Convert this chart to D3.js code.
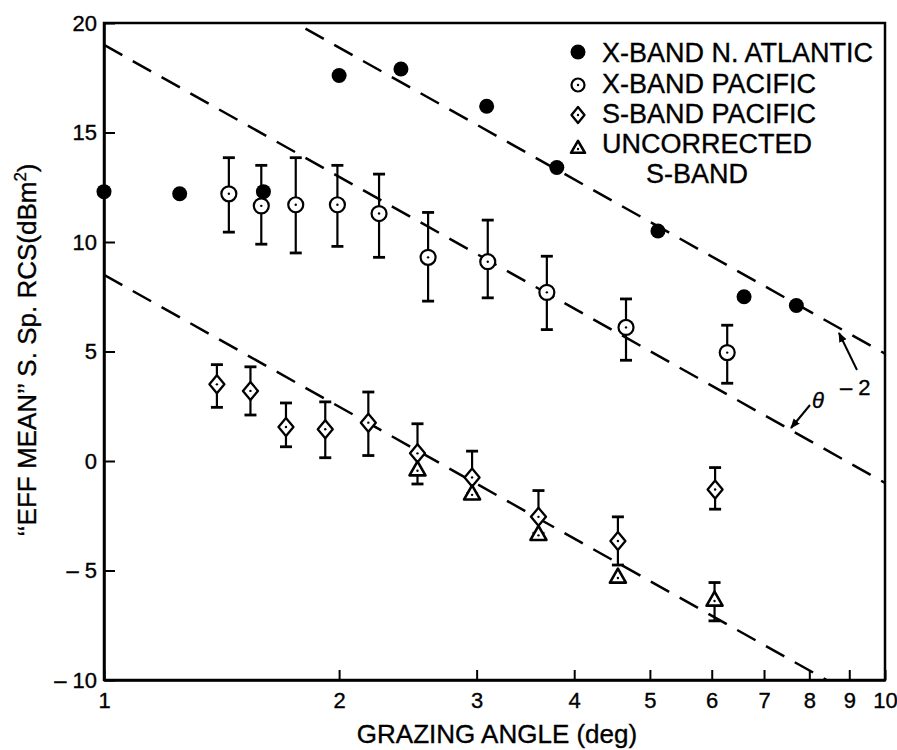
<!DOCTYPE html>
<html>
<head>
<meta charset="utf-8">
<script src="https://cdn.jsdelivr.net/npm/d3@7"></script>
<style>
  body { margin: 0; background: #fff; }
  text { font-family: "Liberation Sans", Arial, Helvetica, sans-serif; fill: #000; stroke: #000; stroke-width: 0.35px; }
</style>
</head>
<body>
<svg id="chart" width="897" height="750"></svg>
<script>
// axis ticks
var xTicks = [1, 2, 3, 4, 5, 6, 7, 8, 9, 10];
var yTicks = [-10, -5, 0, 5, 10, 15, 20];

// X-band N. Atlantic (filled circles)
var naX = [1.0, 1.25, 1.6, 2.0, 2.4, 3.09, 3.8, 5.12, 6.6, 7.7];
var naY = [12.3, 12.2, 12.3, 17.6, 17.9, 16.2, 13.4, 10.5, 7.5, 7.1];

// X-band Pacific (open circles + error bars)
var xpX  = [1.445, 1.59, 1.76, 1.99, 2.25, 2.6, 3.1, 3.69, 4.66, 6.28];
var xpY  = [12.2, 11.65, 11.7, 11.7, 11.3, 9.3, 9.1, 7.7, 6.1, 4.95];
var xpHi = [13.85, 13.5, 13.85, 13.5, 13.1, 11.35, 11.0, 9.35, 7.4, 6.2];
var xpLo = [10.45, 9.9, 9.5, 9.8, 9.3, 7.3, 7.45, 6.0, 4.6, 3.55];

// S-band Pacific (diamonds + error bars)
var sbX  = [1.395, 1.54, 1.71, 1.92, 2.18, 2.52, 2.96, 3.6, 4.55, 6.06];
var sbY  = [3.5, 3.2, 1.55, 1.45, 1.75, 0.35, -0.75, -2.55, -3.65, -1.3];
var sbHi = [4.4, 4.3, 2.65, 2.7, 3.15, 1.7, 0.45, -1.35, -2.55, -0.3];
var sbLo = [2.45, 2.1, 0.65, 0.15, 0.25, -1.05, -1.5, -3.3, -4.75, -2.2];

// uncorrected S-band (triangles)
var ucX  = [2.52, 2.96, 3.6, 4.55, 6.05];
var ucY  = [-0.4, -1.5, -3.35, -5.3, -6.35];
var ucHi = [null, null, null, null, -5.55];
var ucLo = [null, null, null, null, -7.3];

// theta^-2 reference lines (value at 1 deg)
var thetaLines = [24.9, 19.0, 8.5];

var legendLabels = ["X-BAND N. ATLANTIC", "X-BAND PACIFIC", "S-BAND PACIFIC", "UNCORRECTED"];

var svg = d3.select("#chart");
var x = d3.scaleLog().domain([1, 10]).range([104, 885]);
var y = d3.scaleLinear().domain([-10, 20]).range([680, 23]);

svg.append("defs").append("clipPath").attr("id", "clip")
  .append("rect")
  .attr("x", x(1)).attr("y", y(20))
  .attr("width", x(10) - x(1)).attr("height", y(-10) - y(20));

// axes
var xAxis = d3.axisBottom(x).tickValues(xTicks).tickFormat(d3.format("d"))
  .tickSize(-10).tickSizeOuter(0).tickPadding(12);
var yAxis = d3.axisLeft(y).tickValues(yTicks)
  .tickFormat(function(d) { return d < 0 ? "\u2013 " + (-d) : d; })
  .tickSize(-11).tickSizeOuter(0).tickPadding(7);

var gx = svg.append("g").attr("transform", "translate(0," + y(-10) + ")").call(xAxis);
var gy = svg.append("g").attr("transform", "translate(" + x(1) + ",0)").call(yAxis);
[gx, gy].forEach(function(g) {
  g.attr("font-family", null).attr("font-size", 22);
  g.selectAll("line").attr("stroke", "#000").attr("stroke-width", 2);
  g.select(".domain").attr("stroke", "#000").attr("stroke-width", 2.5);
});

// frame
svg.append("rect")
  .attr("x", x(1)).attr("y", y(20))
  .attr("width", x(10) - x(1)).attr("height", y(-10) - y(20))
  .attr("fill", "none").attr("stroke", "#000").attr("stroke-width", 2.5);

// axis titles
svg.append("text").attr("x", 497).attr("y", 743).attr("text-anchor", "middle")
  .attr("font-size", 26).text("GRAZING ANGLE (deg)");
var yt = svg.append("text").attr("transform", "translate(36,350) rotate(-90)")
  .attr("text-anchor", "middle").attr("font-size", 26);
yt.append("tspan").text("\u2018\u2018EFF MEAN\u2019\u2019 S. Sp. RCS(dBm");
yt.append("tspan").attr("font-size", 17).attr("dy", -10).text("2");
yt.append("tspan").attr("dy", 10).text(")");

// theta^-2 dashed lines
var line = d3.line().x(function(d) { return x(d[0]); }).y(function(d) { return y(d[1]); });
svg.append("g").attr("clip-path", "url(#clip)")
  .selectAll("path").data(thetaLines).enter().append("path")
  .attr("d", function(a) { return line([[1, a], [10, a - 20]]); })
  .attr("fill", "none").attr("stroke", "#000").attr("stroke-width", 2.5)
  .attr("stroke-dasharray", "21,12");

// error bars
function errorBars(xs, ys, his, los) {
  var g = svg.append("g").attr("stroke", "#000").attr("stroke-width", 2.2);
  xs.forEach(function(xv, i) {
    if (his[i] == null) return;
    var px = x(xv);
    g.append("line").attr("x1", px).attr("x2", px).attr("y1", y(his[i])).attr("y2", y(los[i]));
    g.append("line").attr("x1", px - 6).attr("x2", px + 6).attr("y1", y(his[i])).attr("y2", y(his[i])).attr("stroke-width", 2.8);
    g.append("line").attr("x1", px - 6).attr("x2", px + 6).attr("y1", y(los[i])).attr("y2", y(los[i])).attr("stroke-width", 2.8);
  });
}
errorBars(xpX, xpY, xpHi, xpLo);
errorBars(sbX, sbY, sbHi, sbLo);
errorBars(ucX, ucY, ucHi, ucLo);

// marker shapes
function filledCircle(g, px, py, r) {
  g.append("circle").attr("cx", px).attr("cy", py).attr("r", r).attr("fill", "#000");
}
function openCircle(g, px, py, r) {
  g.append("circle").attr("cx", px).attr("cy", py).attr("r", r)
    .attr("fill", "#fff").attr("stroke", "#000").attr("stroke-width", 2.2);
  g.append("circle").attr("cx", px).attr("cy", py).attr("r", 1.2).attr("fill", "#000");
}
function diamond(g, px, py, w, h) {
  g.append("path")
    .attr("d", "M" + px + "," + (py - h) + "L" + (px + w) + "," + py + "L" + px + "," + (py + h) + "L" + (px - w) + "," + py + "Z")
    .attr("fill", "#fff").attr("stroke", "#000").attr("stroke-width", 2.3).attr("stroke-linejoin", "round");
  g.append("circle").attr("cx", px).attr("cy", py).attr("r", 1.2).attr("fill", "#000");
}
function triangle(g, px, py, w, h) {
  g.append("path")
    .attr("d", "M" + px + "," + (py - h * 0.6) + "L" + (px + w) + "," + (py + h * 0.4) + "L" + (px - w) + "," + (py + h * 0.4) + "Z")
    .attr("fill", "#fff").attr("stroke", "#000").attr("stroke-width", 2.6).attr("stroke-linejoin", "round");
  g.append("circle").attr("cx", px).attr("cy", py + 1).attr("r", 1.2).attr("fill", "#000");
}

var marks = svg.append("g");
naX.forEach(function(d, i) { filledCircle(marks, x(d), y(naY[i]), 7.5); });
xpX.forEach(function(d, i) { openCircle(marks, x(d), y(xpY[i]), 7.5); });
sbX.forEach(function(d, i) { diamond(marks, x(d), y(sbY[i]), 7.5, 9); });
ucX.forEach(function(d, i) { triangle(marks, x(d), y(ucY[i]), 8, 14); });

// legend
var leg = svg.append("g");
var legY = [62, 92.5, 122.5, 153];
legendLabels.forEach(function(t, i) {
  leg.append("text").attr("x", 602).attr("y", legY[i]).attr("font-size", 27).text(t);
});
leg.append("text").attr("x", 646).attr("y", 183).attr("font-size", 27).text("S-BAND");
filledCircle(leg, 578, 52, 7.5);
openCircle(leg, 578, 85, 6.5);
diamond(leg, 578, 115, 6.5, 8);
triangle(leg, 578, 148, 7, 12);

// theta^-2 annotation
var ann = svg.append("g");
ann.append("text").attr("x", 812).attr("y", 408).attr("font-size", 22)
  .attr("font-style", "italic").text("\u03b8");
ann.append("text").attr("x", 840).attr("y", 395).attr("font-size", 22).text("\u2013 2");
svg.append("defs").append("marker").attr("id", "arrow")
  .attr("viewBox", "0 0 10 10").attr("refX", 9).attr("refY", 5)
  .attr("markerWidth", 5).attr("markerHeight", 5).attr("orient", "auto")
  .append("path").attr("d", "M0,1L10,5L0,9Z").attr("fill", "#000");
ann.append("line").attr("x1", 857).attr("y1", 370).attr("x2", 839).attr("y2", 333)
  .attr("stroke", "#000").attr("stroke-width", 2).attr("marker-end", "url(#arrow)");
ann.append("line").attr("x1", 810).attr("y1", 405).attr("x2", 791).attr("y2", 428)
  .attr("stroke", "#000").attr("stroke-width", 2).attr("marker-end", "url(#arrow)");
</script>
</body>
</html>
